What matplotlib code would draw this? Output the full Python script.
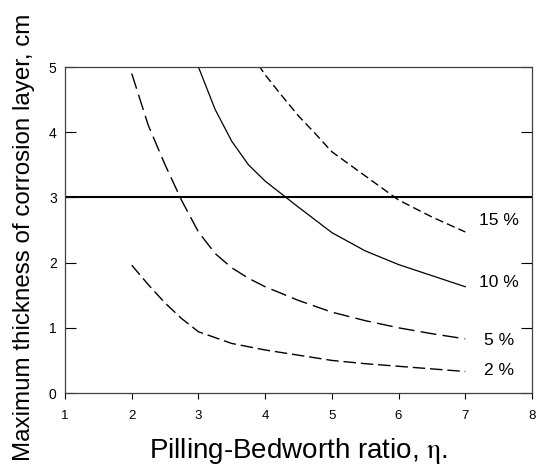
import matplotlib
matplotlib.use("Agg")
import matplotlib.pyplot as plt

plt.rcParams['font.family'] = ['Liberation Sans', 'DejaVu Sans']
plt.rcParams['mathtext.fontset'] = 'stix'

# Pilling-Bedworth ratio values and maximum corrosion layer thickness (cm)
eta_2 = [2, 2.25, 2.5, 2.75, 3, 3.5, 4, 4.5, 5, 5.5, 6, 6.5, 7]
thick_2 = [1.96, 1.66, 1.38, 1.14, 0.94, 0.76, 0.66, 0.58, 0.5, 0.45, 0.41, 0.37, 0.33]

eta_5 = [2, 2.25, 2.5, 2.75, 3, 3.25, 3.5, 3.75, 4, 4.5, 5, 5.5, 6, 6.5, 7]
thick_5 = [4.9, 4.1, 3.5, 2.95, 2.47, 2.14, 1.92, 1.76, 1.63, 1.42, 1.24, 1.11, 1.0, 0.91, 0.83]

eta_10 = [3, 3.25, 3.5, 3.75, 4, 4.5, 5, 5.5, 6, 6.5, 7]
thick_10 = [5.0, 4.35, 3.86, 3.5, 3.25, 2.85, 2.46, 2.18, 1.97, 1.8, 1.63]

eta_15 = [3.9, 4, 4.25, 4.5, 4.75, 5, 5.5, 6, 6.5, 7]
thick_15 = [5.03, 4.88, 4.56, 4.25, 3.98, 3.7, 3.33, 2.96, 2.7, 2.47]

limit = 3.0
labels = ["2 %", "5 %", "10 %", "15 %"]
label_y = [0.35, 0.81, 1.70, 2.65]

fig = plt.figure(figsize=(5.36, 4.65), dpi=100)
ax = fig.add_axes([0.1213, 0.1548, 0.8712, 0.7011])

ax.plot(eta_2, thick_2, color="black", lw=1, dashes=(9, 3.5))
ax.plot(eta_5, thick_5, color="black", lw=1, dashes=(11.5, 4.5))
ax.plot(eta_10, thick_10, color="black", lw=0.9)
ax.plot(eta_15, thick_15, color="black", lw=1, dashes=(6, 3))
ax.axhline(limit, color="black", lw=1.5)

# percentage labels at the curve ends
for lab, yy in zip(labels, label_y):
    ax.text(7.5, yy, lab, ha="center", va="center", fontsize=12.5)

ax.set_xlim(1, 8)
ax.set_ylim(0, 5)
ax.set_xticks(range(1, 9))
ax.set_yticks(range(0, 6))
ax.tick_params(axis="x", direction="out", length=4, width=0.8, labelsize=9.5, pad=8)
ax.tick_params(axis="y", direction="in", length=8, width=0.8, labelsize=10, pad=6,
               right=True)
for sp in ax.spines.values():
    sp.set_color("#404040")
    sp.set_linewidth(0.9)

fig.text(0.556, 0.014, "Pilling-Bedworth ratio, $\\mathrm{\\eta}$.", fontsize=20,
         ha="center", va="baseline")
fig.text(24.5 / 536, 1 - 237.5 / 465, "Maximum thickness of corrosion layer, cm",
         fontsize=17.4, rotation=90, ha="center", va="center")

fig.savefig("out.png", dpi=100)
